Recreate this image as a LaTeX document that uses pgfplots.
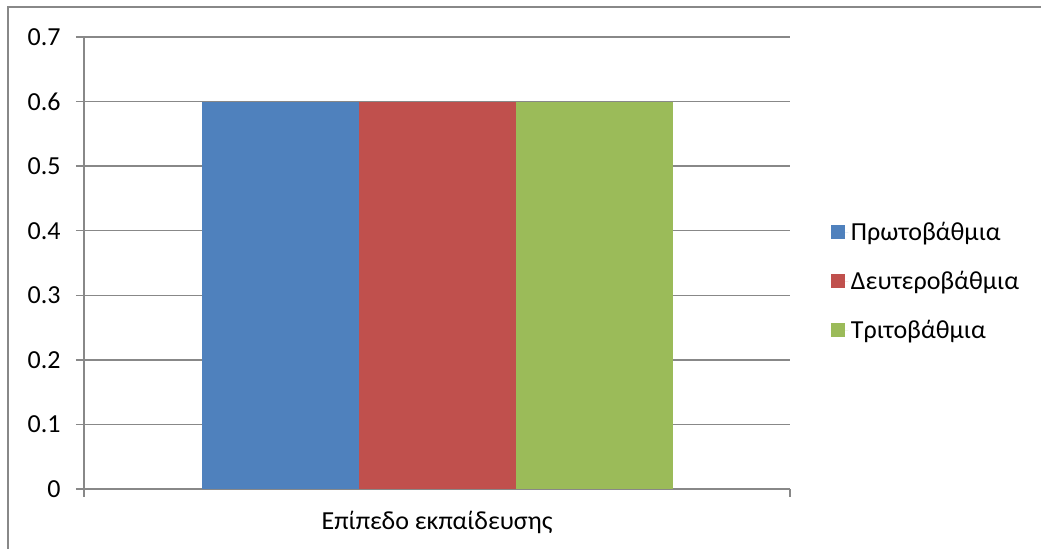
\documentclass[border=0pt]{standalone}
\usepackage{pgfplots}
\pgfplotsset{compat=1.18}
\usepackage{fontspec}
\setmainfont{Carlito}
\definecolor{barBlue}{HTML}{4F81BD}
\definecolor{barRed}{HTML}{C0504D}
\definecolor{barGreen}{HTML}{9BBB59}
\definecolor{axGrey}{HTML}{888888}
\begin{document}
\begin{tikzpicture}[x=0.75pt,y=0.75pt]
\useasboundingbox (0,0) rectangle (1041,549);
% chart area border (left and top edges)
\draw[axGrey,line width=1.1pt] (8,0) -- (8,542) -- (1041,542);
\begin{axis}[
  at={(63pt,45pt)}, anchor=south west,
  scale only axis, width=529.5pt, height=339pt,
  font=\fontsize{19.5}{23}\selectfont,
  ybar=0pt, bar width=117.75pt,
  xmin=0, xmax=1, ymin=0, ymax=0.7,
  xtick={0,1}, xticklabels={}, 
  ytick={0,0.1,...,0.7},
  yticklabel style={/pgf/number format/fixed,/pgf/number format/precision=1,
    /pgf/number format/assume math mode=true, xshift=-8pt},
  axis lines*=left, axis line style={axGrey,line width=1pt},
  tick style={axGrey,line width=1pt}, tick align=outside,
  major tick length=6pt,
  ymajorgrids, grid style={axGrey,line width=1pt},
  xlabel={Επίπεδο εκπαίδευσης},
  xlabel style={at={(axis description cs:0.5,0)}, anchor=center, yshift=-25pt},
  legend style={draw=none, at={(axis description cs:1.052,0.46)}, anchor=west,
    font=\fontsize{19.5}{23}\selectfont, row sep=17.5pt,
    legend cell align=left},
  legend image code/.code={\fill[#1] (0pt,-5pt) rectangle (10.5pt,5.5pt);
    \path (0pt,0pt) -- (13pt,0pt);},
]
\addplot[fill=barBlue, draw=none] coordinates {(0.5,0.6)};
\addplot[fill=barRed, draw=none] coordinates {(0.5,0.6)};
\addplot[fill=barGreen, draw=none] coordinates {(0.5,0.6)};
\legend{Πρωτοβάθμια, Δευτεροβάθμια, Τριτοβάθμια}
\end{axis}
\end{tikzpicture}
\end{document}
